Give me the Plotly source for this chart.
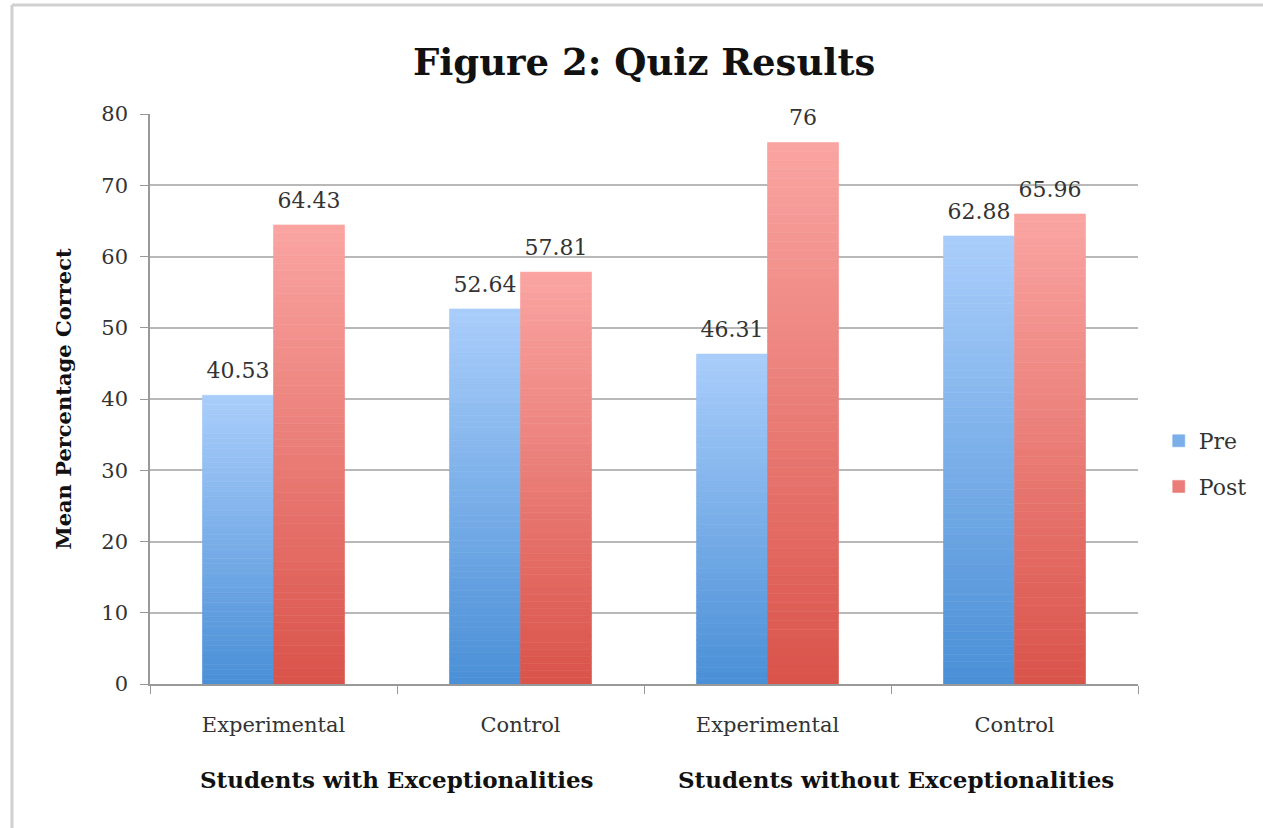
import plotly.graph_objects as go

categories = ["Experimental", "Control", "Experimental", "Control"]
groups = ["Students with Exceptionalities", "Students without Exceptionalities"]
pre_values = [40.53, 52.64, 46.31, 62.88]
post_values = [64.43, 57.81, 76, 65.96]
pre_labels = ["40.53", "52.64", "46.31", "62.88"]
post_labels = ["64.43", "57.81", "76", "65.96"]
y_ticks = [0, 10, 20, 30, 40, 50, 60, 70, 80]

FONT = "DejaVu Serif"
xkeys = [f"c{i}" for i in range(len(categories))]

def lerp(c1, c2, t):
    return "rgb(%d,%d,%d)" % tuple(round(a + (b - a) * t) for a, b in zip(c1, c2))

fig = go.Figure()
N = 60
LABEL_LIFT = 1.3  # data-unit gap between bar top and its value label
series = [
    ("Pre", pre_values, pre_labels, (74, 143, 214), (170, 206, 251), "pre"),
    ("Post", post_values, post_labels, (217, 83, 74), (250, 165, 162), "post"),
]
for name, vals, labels, bottom, top, grp in series:
    for s in range(N):
        t = (s + 0.5) / N
        col = lerp(bottom, top, t)
        fig.add_trace(go.Bar(
            x=xkeys,
            y=[v / N for v in vals],
            base=[v * s / N for v in vals],
            offsetgroup=grp,
            legendgroup=grp,
            name=name,
            showlegend=(s == N // 2),
            marker=dict(color=col, line=dict(width=0.6, color=col)),
            hoverinfo="skip",
        ))
    fig.add_trace(go.Bar(
        x=xkeys, y=vals, base=[LABEL_LIFT] * len(vals),
        offsetgroup=grp, legendgroup=grp, name=name,
        showlegend=False,
        marker=dict(color="rgba(0,0,0,0)", line=dict(width=0)),
        text=labels, textposition="outside", cliponaxis=False,
        textfont=dict(family=FONT, size=22, color="#333333"),
        hoverinfo="skip",
    ))

annotations = []
for i, g in enumerate(groups):
    annotations.append(dict(
        x=2 * i + 0.5, xref="x", y=-0.168, yref="paper",
        text="<b>" + g + "</b>", showarrow=False, xshift=5 * i,
        font=dict(family=FONT, size=23, color="#111111"),
        xanchor="center", yanchor="middle",
    ))

fig.update_layout(
    width=1263, height=828,
    margin=dict(l=150, r=125, t=114, b=144, autoexpand=False),
    paper_bgcolor="white", plot_bgcolor="white",
    barmode="group", bargap=0.425, bargroupgap=0.0,
    title=dict(text="<b>Figure 2: Quiz Results</b>", x=0.51, xanchor="center",
               y=0.925, yanchor="middle",
               font=dict(family=FONT, size=37, color="#111111")),
    xaxis=dict(
        type="category", tickmode="array", tickvals=xkeys, ticktext=categories,
        tickson="boundaries", ticks="outside", ticklen=8, tickcolor="#999999",
        ticklabelstandoff=21,
        showline=True, linecolor="#999999", linewidth=1.5, showgrid=False,
        tickfont=dict(family=FONT, size=21, color="#333333"),
    ),
    yaxis=dict(
        range=[0, 80], tickvals=y_ticks, ticks="outside", ticklen=8,
        tickcolor="#999999", showline=True, linecolor="#999999", linewidth=1.5,
        ticklabelstandoff=8,
        showgrid=True, gridcolor="#b8b8b8", gridwidth=1.5, zeroline=False,
        tickfont=dict(family=FONT, size=21, color="#333333"),
        title=dict(text="<b>Mean Percentage Correct</b>", standoff=24,
                   font=dict(family=FONT, size=21, color="#111111")),
    ),
    legend=dict(x=1.021, y=0.386, xanchor="left", yanchor="middle",
                font=dict(family=FONT, size=22, color="#333333"),
                tracegroupgap=14, bgcolor="rgba(0,0,0,0)"),
    annotations=annotations,
    shapes=[
        dict(type="line", xref="paper", yref="paper", x0=-0.1397, x1=1.2,
             y0=1.1912, y1=1.1912, line=dict(color="#d0d0d0", width=3)),
        dict(type="line", xref="paper", yref="paper", x0=-0.1397, x1=-0.1397,
             y0=1.1912, y1=-0.3, line=dict(color="#d0d0d0", width=3)),
    ],
)

fig.write_html("out.html")
